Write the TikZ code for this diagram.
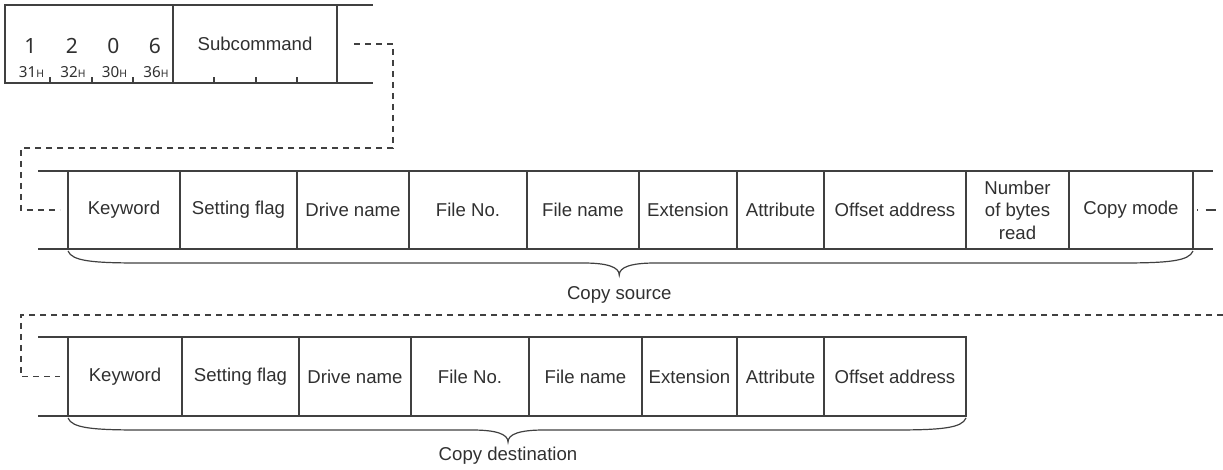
\documentclass[tikz,border=0pt]{standalone}
\usepackage{fontspec}
\setmainfont{Liberation Sans}
\newfontfamily\digitfont{Noto Sans}
\usetikzlibrary{positioning,calc}

\definecolor{frame}{HTML}{404040}
\definecolor{ink}{HTML}{303030}

\tikzset{
    cell/.style={draw=frame, line width=0.6pt, inner sep=0pt, outer sep=0pt,
        minimum height=39pt, text=ink, align=center,
        font=\fontsize{9.3pt}{11.2pt}\selectfont},
    rule/.style={draw=frame, line width=0.6pt},
    link/.style={draw=frame, line width=0.6pt, dash pattern=on 3pt off 2.5pt},
    digit/.style={inner sep=0pt, text=ink, font=\digitfont\fontsize{10.5pt}{11pt}\selectfont},
    hexcode/.style={inner sep=0pt, text=ink, font=\digitfont\fontsize{7.6pt}{8pt}\selectfont},
    caption/.style={inner sep=0pt, text=ink, font=\fontsize{9.3pt}{11.2pt}\selectfont},
}

% curly brace under a field row: left point, right point, aspect
\newcommand{\fieldbrace}[3]{%
    \draw[rule] let \p1=(#1), \p2=(#2), \n1={\x1+#3*(\x2-\x1)}, \n2={\y1-1pt} in
        (\x1,\n2) .. controls (\x1+2pt,\n2-5pt) and (\x1+12pt,\n2-6pt) .. (\x1+36pt,\n2-6pt)
        -- (\n1-18pt,\n2-6pt) .. controls (\n1-6pt,\n2-6pt) and (\n1,\n2-8pt) .. (\n1,\n2-12pt)
        .. controls (\n1,\n2-8pt) and (\n1+6pt,\n2-6pt) .. (\n1+18pt,\n2-6pt)
        -- (\x2-36pt,\n2-6pt) .. controls (\x2-12pt,\n2-6pt) and (\x2-2pt,\n2-5pt) .. (\x2,\n2);%
}

\begin{document}
\begin{tikzpicture}[x=0.5pt, y=-0.5pt]
    \useasboundingbox (0,0) rectangle (1223,470);

    % command and subcommand
    \node[cell, minimum width=84pt, minimum height=39pt, anchor=west] (cmd) at (5,44) {};
    \node[cell, minimum width=82pt, minimum height=39pt, right=0pt of cmd] (sub) {Subcommand};
    \draw[rule] (sub.north east) -- ++(36,0);
    \draw[rule] (sub.south east) -- ++(36,0);
    \foreach \d [count=\i] in {1,2,0,6}
        \node[digit] (dg\i) at ($(cmd.west)+(\i*41.5-16,2)$) {\d};
    \foreach \h [count=\i] in {31,32,30,36}
        \node[hexcode] (hx\i) at ($(cmd.west)+(\i*41.5-15,28)$) {\h{\fontsize{5.2pt}{5.5pt}\selectfont H}};
    \foreach \x in {45,87,128}
        \draw[rule] ($(cmd.south west)+(\x,0)$) -- ++(0,-6);
    \foreach \x in {41,83,124}
        \draw[rule] ($(sub.south west)+(\x,0)$) -- ++(0,-6);

    % copy source
    \node[cell, minimum width=56pt, anchor=west] (k1) at (68,210) {Keyword};
    \node[cell, minimum width=58.5pt, right=0pt of k1] (s1) {Setting flag};
    \node[cell, minimum width=56pt, right=0pt of s1] (d1) {Drive name};
    \node[cell, minimum width=59pt, right=0pt of d1] (n1) {File No.};
    \node[cell, minimum width=56pt, right=0pt of n1] (f1) {File name};
    \node[cell, minimum width=49pt, right=0pt of f1] (e1) {Extension};
    \node[cell, minimum width=43.5pt, right=0pt of e1] (a1) {Attribute};
    \node[cell, minimum width=71pt, right=0pt of a1] (o1) {Offset address};
    \node[cell, minimum width=51.5pt, right=0pt of o1] (b1) {Number\\of bytes\\read};
    \node[cell, minimum width=62pt, right=0pt of b1] (m1) {Copy mode};
    \draw[rule] (k1.north west) -- ++(-30,0);
    \draw[rule] (k1.south west) -- ++(-30,0);
    \draw[rule] (m1.north east) -- ++(20,0);
    \draw[rule] (m1.south east) -- ++(20,0);
    \fieldbrace{k1.south west}{m1.south east}{0.49}
    \node[caption] (src) at ($(k1.south west)!0.49!(m1.south east)+(0,46)$) {Copy source};

    % copy destination
    \node[cell, minimum width=57pt, minimum height=39.5pt, anchor=west] (k2) at (68,376.5) {Keyword};
    \node[cell, minimum width=58.5pt, minimum height=39.5pt, right=0pt of k2] (s2) {Setting flag};
    \node[cell, minimum width=56pt, minimum height=39.5pt, right=0pt of s2] (d2) {Drive name};
    \node[cell, minimum width=59pt, minimum height=39.5pt, right=0pt of d2] (n2) {File No.};
    \node[cell, minimum width=56.5pt, minimum height=39.5pt, right=0pt of n2] (f2) {File name};
    \node[cell, minimum width=47.5pt, minimum height=39.5pt, right=0pt of f2] (e2) {Extension};
    \node[cell, minimum width=43.5pt, minimum height=39.5pt, right=0pt of e2] (a2) {Attribute};
    \node[cell, minimum width=71pt, minimum height=39.5pt, right=0pt of a2] (o2) {Offset address};
    \draw[rule] (k2.north west) -- ++(-30,0);
    \draw[rule] (k2.south west) -- ++(-30,0);
    \fieldbrace{k2.south west}{o2.south east}{0.49}
    \node[caption] (dst) at ($(k2.south west)!0.49!(o2.south east)+(0,40)$) {Copy destination};

    % continuation lines
    \coordinate (c1a) at ($(sub.east)+(17,0)$);
    \coordinate (c1b) at ($(k1.west)+(-8,0)$);
    \draw[link] (c1a) -- ++(39,0) -- ++(0,104) -| ($(c1b)+(-39,0)$) -- (c1b);
    \coordinate (c2a) at (1223,315);
    \coordinate (c2b) at ($(k2.west)+(-8,0)$);
    \draw[link] (c2a) -| ($(c2b)+(-39,0)$) -- (c2b);
    \coordinate (c3) at ($(m1.east)+(23,0)$);
    \draw[link, dash pattern=on 0.6pt off 3.7pt on 5pt off 5pt] ($(m1.east)+(4,0)$) -- (c3);
\end{tikzpicture}
\end{document}
